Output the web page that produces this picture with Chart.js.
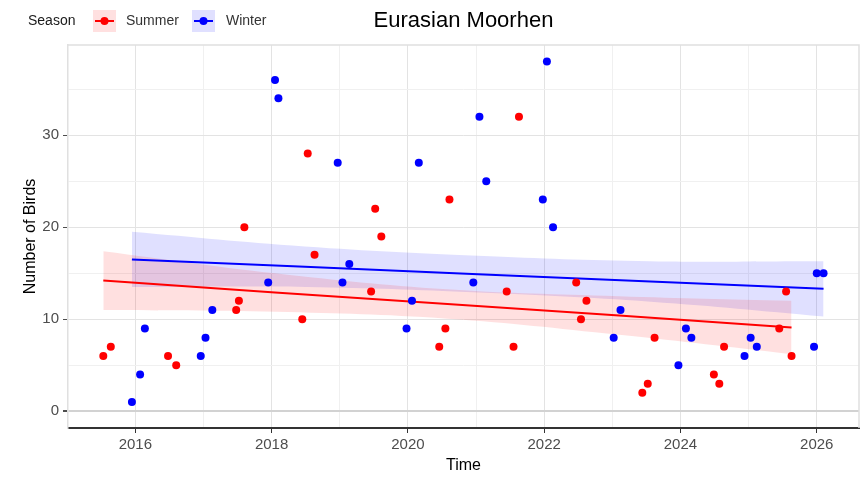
<!DOCTYPE html>
<html>
<head>
<meta charset="utf-8">
<script src="https://cdn.jsdelivr.net/npm/chart.js@4.4.1/dist/chart.umd.min.js"></script>
<style>
  html, body { margin: 0; padding: 0; background: #fff; }
  #wrap { width: 863px; height: 477px; }
</style>
</head>
<body>
<div id="wrap"><canvas id="chart"></canvas></div>
<script>
// observations (decimal year, count)
const summerTime = [2015.53, 2015.64, 2016.48, 2016.60, 2017.48, 2017.52, 2017.60, 2018.45, 2018.53, 2018.63,
  2019.46, 2019.52, 2019.61, 2020.46, 2020.55, 2020.61, 2021.45, 2021.55, 2021.63, 2022.47, 2022.54, 2022.62,
  2023.44, 2023.52, 2023.62, 2024.49, 2024.57, 2024.64, 2025.45, 2025.55, 2025.63];
const summerBirds = [6, 7, 6, 5, 11, 12, 20, 10, 28, 17,
  13, 22, 19, 7, 9, 23, 13, 7, 32, 14, 10, 12,
  2, 3, 8, 4, 3, 7, 9, 13, 6];

const winterTime = [2015.95, 2016.07, 2016.14, 2016.96, 2017.03, 2017.13, 2017.95, 2018.05, 2018.10, 2018.97,
  2019.04, 2019.14, 2019.98, 2020.06, 2020.16, 2020.96, 2021.05, 2021.15, 2021.98, 2022.04, 2022.13,
  2023.02, 2023.12, 2023.97, 2024.08, 2024.16, 2024.94, 2025.03, 2025.12, 2025.96, 2026.00, 2026.10];
const winterBirds = [1, 4, 9, 6, 8, 11, 14, 36, 34, 27,
  14, 16, 9, 12, 27, 14, 32, 25, 23, 38, 20,
  8, 11, 5, 9, 8, 6, 8, 7, 7, 15, 15];

// linear trend + confidence band
const summerFitTime = [2015.53, 2018.05, 2020.58, 2023.10, 2025.63];
const summerFit = [14.2, 12.9, 11.65, 10.4, 9.1];
const summerLow = [11.0, 10.8, 10.05, 8.3, 6.2];
const summerHigh = [17.4, 15.0, 13.25, 12.5, 12.0];

const winterFitTime = [2015.95, 2018.49, 2021.03, 2023.56, 2026.10];
const winterFit = [16.5, 15.7, 14.9, 14.1, 13.3];
const winterLow = [13.5, 13.5, 12.9, 11.9, 10.3];
const winterHigh = [19.5, 17.9, 16.9, 16.3, 16.3];

const seasons = ["Summer", "Winter"];
const xLabelYears = [2016, 2018, 2020, 2022, 2024, 2026];

const RED = "#ff0000";
const BLUE = "#0000ff";

const pts = (xs, ys) => xs.map((x, i) => ({ x, y: ys[i] }));

// panel frame (top/right) + legend in the title row
const framePlugin = {
  id: "frame",
  afterDraw(chart) {
    const { ctx, chartArea: a } = chart;
    ctx.save();
    ctx.strokeStyle = "#e0e0e0";
    ctx.lineWidth = 1.5;
    ctx.beginPath();
    ctx.moveTo(a.left, a.top);
    ctx.lineTo(a.right, a.top);
    ctx.lineTo(a.right, a.bottom);
    ctx.stroke();

    // legend
    const y = 21;
    ctx.font = "14px 'Liberation Sans', Arial, sans-serif";
    ctx.textBaseline = "middle";
    ctx.fillStyle = "#1a1a1a";
    ctx.fillText("Season", 28, y);
    const keys = [
      { x: 93, col: RED, fill: "rgba(255,0,0,0.12)", text: seasons[0], tx: 126 },
      { x: 192, col: BLUE, fill: "rgba(0,0,255,0.12)", text: seasons[1], tx: 226 },
    ];
    keys.forEach(k => {
      ctx.fillStyle = k.fill;
      ctx.fillRect(k.x, 10, 23, 22);
      ctx.strokeStyle = k.col;
      ctx.lineWidth = 2;
      ctx.beginPath();
      ctx.moveTo(k.x + 2, y);
      ctx.lineTo(k.x + 21, y);
      ctx.stroke();
      ctx.fillStyle = k.col;
      ctx.beginPath();
      ctx.arc(k.x + 11.5, y, 4, 0, Math.PI * 2);
      ctx.fill();
      ctx.fillStyle = "#333";
      ctx.fillText(k.text, k.tx, y);
    });
    ctx.restore();
  },
};

new Chart(document.getElementById("chart"), {
  type: "scatter",
  data: {
    datasets: [
      { type: "line", data: pts(summerFitTime, summerLow), borderWidth: 0, pointRadius: 0, fill: false, tension: 0.4, order: 3 },
      { type: "line", data: pts(summerFitTime, summerHigh), borderWidth: 0, pointRadius: 0, tension: 0.4,
        fill: { target: 0 }, backgroundColor: "rgba(255,0,0,0.12)", order: 3 },
      { type: "line", data: pts(winterFitTime, winterLow), borderWidth: 0, pointRadius: 0, fill: false, tension: 0.4, order: 3 },
      { type: "line", data: pts(winterFitTime, winterHigh), borderWidth: 0, pointRadius: 0, tension: 0.4,
        fill: { target: 2 }, backgroundColor: "rgba(0,0,255,0.12)", order: 3 },
      { type: "line", data: pts(summerFitTime, summerFit), borderColor: RED, borderWidth: 2, pointRadius: 0, fill: false, order: 2 },
      { type: "line", data: pts(winterFitTime, winterFit), borderColor: BLUE, borderWidth: 2, pointRadius: 0, fill: false, order: 2 },
      { label: seasons[0], data: pts(summerTime, summerBirds), pointRadius: 4, pointBorderWidth: 0, backgroundColor: RED, order: 1 },
      { label: seasons[1], data: pts(winterTime, winterBirds), pointRadius: 4, pointBorderWidth: 0, backgroundColor: BLUE, order: 1 },
    ],
  },
  options: {
    responsive: true,
    maintainAspectRatio: false,
    animation: false,
    layout: { padding: { right: 4 } },
    plugins: {
      legend: { display: false },
      tooltip: { enabled: false },
      title: {
        display: true,
        text: "Eurasian Moorhen",
        fullSize: false,
        color: "#000",
        font: { family: "'Liberation Sans', Arial, sans-serif", size: 22, weight: "normal" },
        padding: { top: 8, bottom: 10.6 },
      },
    },
    scales: {
      x: {
        type: "linear",
        min: 2015.012,
        max: 2026.62,
        afterFit: s => { s.height = 49; },
        border: { display: true, color: "#333", width: 2 },
        grid: {
          color: c => (xLabelYears.includes(c.tick.value) ? "#e3e3e3" : "#f0f0f0"),
          lineWidth: 1,
          tickColor: c => (xLabelYears.includes(c.tick.value) ? "#333" : "rgba(0,0,0,0)"),
          tickLength: 5,
        },
        ticks: {
          stepSize: 1,
          includeBounds: false,
          autoSkip: false,
          maxRotation: 0,
          padding: 3,
          color: "#4d4d4d",
          font: { family: "'Liberation Sans', Arial, sans-serif", size: 15 },
          callback: v => (xLabelYears.includes(v) ? String(v) : ""),
        },
        title: {
          display: true,
          text: "Time",
          color: "#000",
          font: { family: "'Liberation Sans', Arial, sans-serif", size: 16 },
          padding: { top: 0, bottom: 2 },
        },
      },
      y: {
        min: -1.82,
        max: 39.8,
        afterFit: s => { s.width = 68; },
        border: { display: true, color: "#e0e0e0", width: 1.5 },
        grid: {
          color: c => (c.tick.value === 0 ? "#d2d2d2" : c.tick.value % 10 === 0 ? "#e3e3e3" : "#f0f0f0"),
          lineWidth: c => (c.tick.value === 0 ? 2 : 1),
          tickColor: c => (c.tick.value % 10 === 0 ? "#4d4d4d" : "rgba(0,0,0,0)"),
          tickLength: 5,
        },
        ticks: {
          stepSize: 5,
          includeBounds: false,
          autoSkip: false,
          padding: 4,
          color: "#4d4d4d",
          font: { family: "'Liberation Sans', Arial, sans-serif", size: 15 },
          callback: v => (v % 10 === 0 ? String(v) : ""),
        },
        title: {
          display: true,
          text: "Number of Birds",
          color: "#000",
          font: { family: "'Liberation Sans', Arial, sans-serif", size: 16 },
          padding: { top: 21, bottom: 0 },
        },
      },
    },
  },
  plugins: [framePlugin],
});
</script>
</body>
</html>
